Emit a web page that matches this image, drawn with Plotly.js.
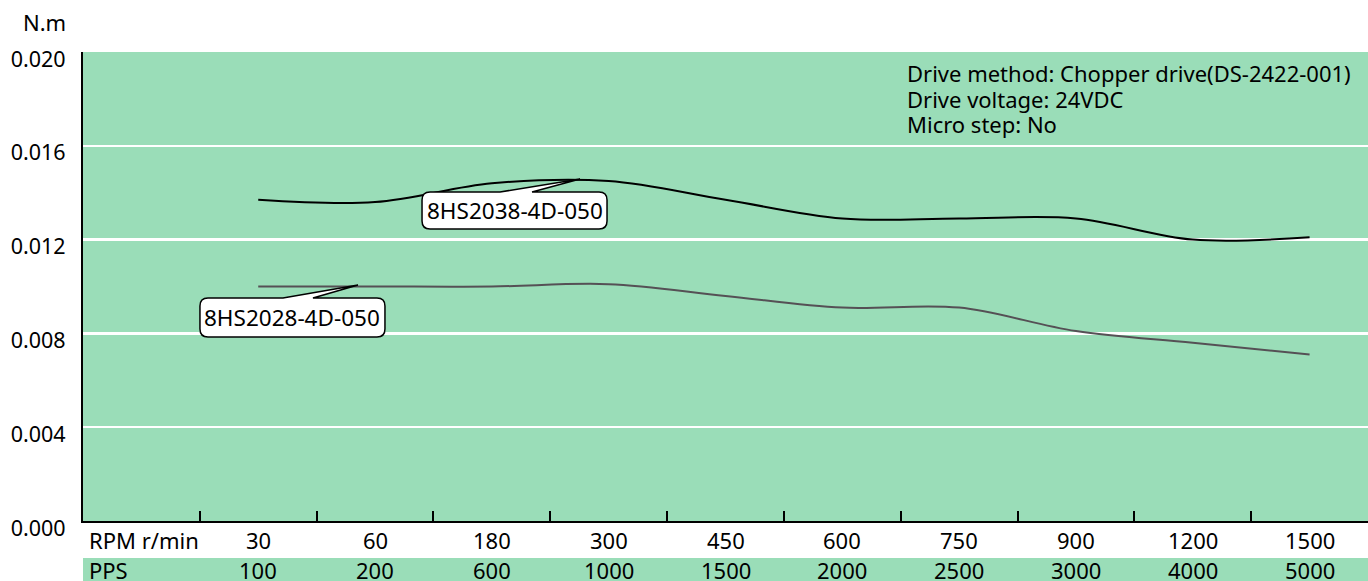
<!DOCTYPE html>
<html>
<head>
<meta charset="utf-8">
<script src="https://cdn.plot.ly/plotly-3.0.1.min.js"></script>
<style>html,body{margin:0;padding:0;background:#fff;}#chart{width:1368px;height:581px;}</style>
</head>
<body>
<div id="chart"></div>
<script>
// ---- data ----
const rpmLabels = ['30','60','180','300','450','600','750','900','1200','1500'];
const ppsLabels = ['100','200','600','1000','1500','2000','2500','3000','4000','5000'];
const torque2038 = [0.0137,0.0136,0.0144,0.0145,0.0137,0.0129,0.0129,0.0129,0.0120,0.0121];
const torque2028 = [0.0100,0.0100,0.0100,0.0101,0.0096,0.0091,0.0091,0.0081,0.0076,0.0071];
const seriesNames = ['8HS2038-4D-050','8HS2028-4D-050'];
const yTicks = [0,0.004,0.008,0.012,0.016,0.020];
const infoLines = ['Drive method: Chopper drive(DS-2422-001)','Drive voltage: 24VDC','Micro step: No'];
const rowTitles = ['RPM r/min','PPS'];

const FONT = '"Noto Sans", "Open Sans", sans-serif';
const GREEN = 'rgb(154,221,184)';
const FS = 22;
const xs = rpmLabels.map((_, i) => i + 1.5);

const traces = [
  {x: xs, y: torque2038, mode: 'lines', name: seriesNames[0],
   line: {color: '#000000', width: 2, shape: 'spline', smoothing: 1}, hoverinfo: 'skip'},
  {x: xs, y: torque2028, mode: 'lines', name: seriesNames[1],
   line: {color: '#555055', width: 2, shape: 'spline', smoothing: 1}, hoverinfo: 'skip'}
];

function callout(w, h, r, b1, b2, tx, ty) {
  // pixel path relative to anchor (y up)
  return `M ${-w + r} ${h} L ${b1} ${h} L ${tx} ${ty} L ${b2} ${h} L ${w - r} ${h} ` +
    `Q ${w} ${h} ${w} ${h - r} L ${w} ${-h + r} Q ${w} ${-h} ${w - r} ${-h} ` +
    `L ${-w + r} ${-h} Q ${-w} ${-h} ${-w} ${-h + r} L ${-w} ${h - r} Q ${-w} ${h} ${-w + r} ${h} Z`;
}

const boxes = [
  {cx: 3.694, cy: 0.013241, w: 92.5, h: 18.5, b1: -14.5, b2: 17.5, tx: 65.5, ty: 31.5, text: seriesNames[0]},
  {cx: 1.793, cy: 0.008678, w: 92.5, h: 19.5, b1: -9.5, b2: 20.5, tx: 65.5, ty: 32.5, text: seriesNames[1]}
];

const shapes = [
  {type: 'rect', xref: 'paper', yref: 'paper', x0: 0, x1: 1, y0: -0.1279, y1: -0.0789,
   fillcolor: GREEN, line: {width: 0}, layer: 'below'}
];
boxes.forEach(b => shapes.push({
  type: 'path', xref: 'x', yref: 'y', xsizemode: 'pixel', ysizemode: 'pixel',
  xanchor: b.cx, yanchor: b.cy,
  path: callout(b.w, b.h, 8, b.b1, b.b2, b.tx, b.ty),
  fillcolor: '#ffffff', line: {color: '#000000', width: 1.5}, layer: 'above'
}));

const annotations = [];
boxes.forEach(b => annotations.push({
  x: b.cx, y: b.cy, xref: 'x', yref: 'y', text: b.text, showarrow: false,
  font: {family: FONT, size: 22.5, color: '#000'}, xanchor: 'center', yanchor: 'middle'
}));
rpmLabels.forEach((t, i) => annotations.push({
  x: xs[i], y: -0.0405, xref: 'x', yref: 'paper', text: t, showarrow: false,
  font: {family: FONT, size: FS, color: '#000'}, xanchor: 'center', yanchor: 'middle'
}));
ppsLabels.forEach((t, i) => annotations.push({
  x: xs[i], y: -0.1045, xref: 'x', yref: 'paper', text: t, showarrow: false,
  font: {family: FONT, size: FS, color: '#000'}, xanchor: 'center', yanchor: 'middle'
}));
rowTitles.forEach((t, i) => annotations.push({
  x: 0.03, y: i === 0 ? -0.0405 : -0.1045, xref: 'x', yref: 'paper', text: t, showarrow: false,
  font: {family: FONT, size: FS, color: '#000'}, xanchor: 'left', yanchor: 'middle'
}));
const infoY = [0.9552, 0.8998, 0.8465];
infoLines.forEach((t, i) => annotations.push({
  x: 0.6397, y: infoY[i], xref: 'paper', yref: 'paper', text: t, align: 'left',
  showarrow: false, font: {family: FONT, size: FS, color: '#000'}, xanchor: 'left', yanchor: 'middle'
}));
annotations.push({
  x: -0.0303, y: 1.064, xref: 'paper', yref: 'paper', text: 'N.m', showarrow: false,
  font: {family: FONT, size: FS, color: '#000'}, xanchor: 'center', yanchor: 'middle'
});

const layout = {
  width: 1368, height: 581,
  margin: {l: 83, r: 0, t: 52, b: 60},
  paper_bgcolor: '#ffffff', plot_bgcolor: GREEN,
  showlegend: false,
  font: {family: FONT, size: FS, color: '#000'},
  xaxis: {
    type: 'linear', range: [0, 11], tickvals: [1,2,3,4,5,6,7,8,9,10], showticklabels: false,
    ticks: 'inside', ticklen: 10, tickwidth: 2, tickcolor: '#000',
    showgrid: false, zeroline: false, showline: true, linecolor: '#000', linewidth: 2, fixedrange: true
  },
  yaxis: {
    range: [0, 0.020], tickvals: yTicks, tickformat: '.3f', ticks: '',
    showgrid: true, gridcolor: '#ffffff', gridwidth: 2.5, zeroline: false,
    showline: true, linecolor: '#000', linewidth: 2,
    ticklabelstandoff: 11, ticklabelshift: 7,
    tickfont: {family: FONT, size: 21.5, color: '#000'}, fixedrange: true
  },
  shapes: shapes,
  annotations: annotations
};

Plotly.newPlot('chart', traces, layout, {displayModeBar: false, staticPlot: true});
</script>
</body>
</html>
